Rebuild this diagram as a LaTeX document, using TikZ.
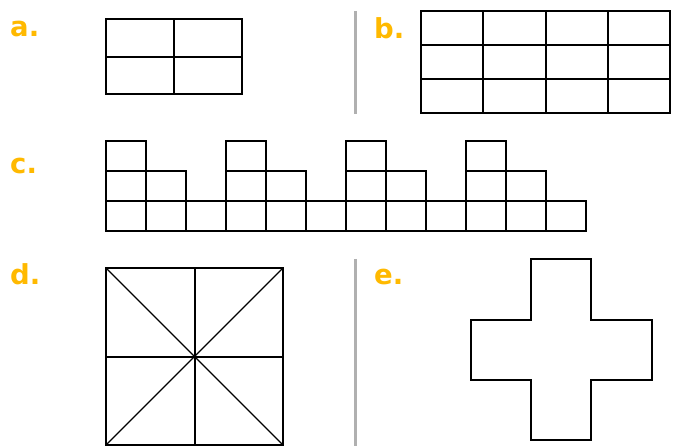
\documentclass[tikz,border=0pt]{standalone}
\usepackage{fontspec}
\newfontfamily\lblfont{DejaVu Sans Bold}
\definecolor{lblcol}{RGB}{255,185,0}
\definecolor{sepcol}{RGB}{176,176,176}
\begin{document}
\begin{tikzpicture}[x=1pt,y=-1pt,
  lbl/.style={anchor=base west,inner sep=0pt,text=lblcol,font=\lblfont\fontsize{27.5}{32}\selectfont},
  shp/.style={draw=black,line width=1.3pt},
  sep/.style={draw=sepcol,line width=2.6pt}]
\useasboundingbox (0,0) rectangle (677,446);
% labels
\node[lbl] (la) at (10,37) {a.};
\node[lbl] (lb) at (374,39) {b.};
\node[lbl] (lc) at (10,174) {c.};
\node[lbl] (ld) at (10,284) {d.};
\node[lbl] (le) at (374,284) {e.};
% separators
\draw[sep] (355.5,11) -- (355.5,114);
\draw[sep] (355.5,259) -- (355.5,446);
% a
\draw[shp] (106,19) rectangle (242,94);
\draw[shp] (174,19) -- (174,94);
\draw[shp] (106,57) -- (242,57);
% b
\draw[shp] (421,11) rectangle (670,113);
\foreach \xx in {483,546,608} \draw[shp] (\xx,11) -- (\xx,113);
\foreach \yy in {45,79} \draw[shp] (421,\yy) -- (670,\yy);
% c
\draw[shp] (106,201) rectangle (586,231);
\foreach \i in {1,...,11} \draw[shp] ({106+40*\i},201) -- ({106+40*\i},231);
\foreach \g in {0,1,2,3} {
  \draw[shp] ({106+120*\g},201) -- ({106+120*\g},171) -- ({186+120*\g},171) -- ({186+120*\g},201);
  \draw[shp] ({146+120*\g},171) -- ({146+120*\g},201);
  \draw[shp] ({106+120*\g},171) -- ({106+120*\g},141) -- ({146+120*\g},141) -- ({146+120*\g},171);
}
% d
\draw[shp] (106,268) rectangle (283,445);
\draw[shp] (195,268) -- (195,445);
\draw[shp] (106,357) -- (283,357);
\draw[shp] (106,268) -- (283,445);
\draw[shp] (283,268) -- (106,445);
% e
\draw[shp] (531,259) -- (591,259) -- (591,320) -- (652,320) -- (652,380) -- (591,380) -- (591,440) -- (531,440) -- (531,380) -- (471,380) -- (471,320) -- (531,320) -- cycle;
\end{tikzpicture}
\end{document}
